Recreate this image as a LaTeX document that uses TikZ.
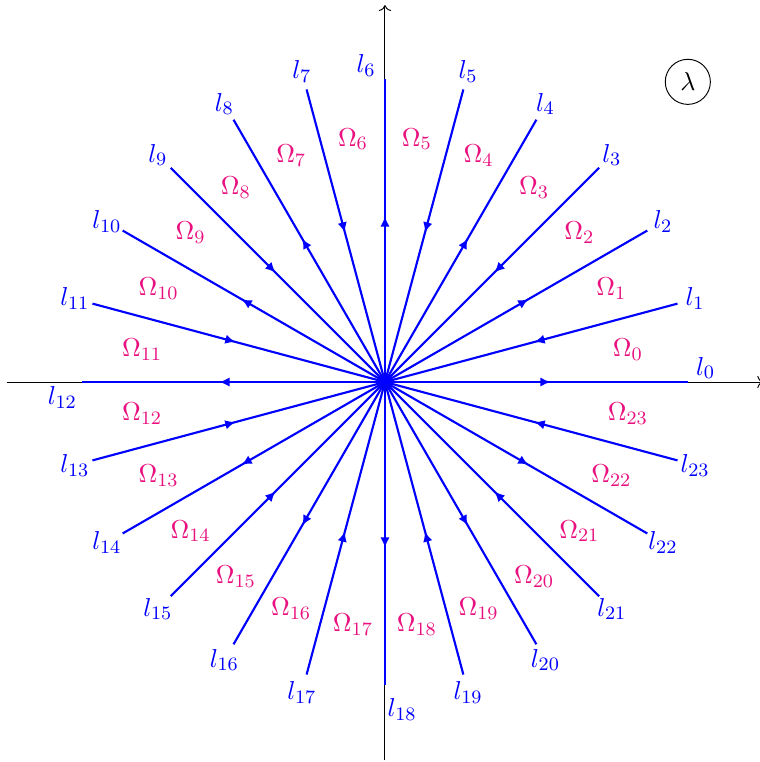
\documentclass[tikz,border=0pt]{standalone}
\usetikzlibrary{arrows.meta,decorations.markings}
\definecolor{omg}{RGB}{232,17,127}
\begin{document}
\begin{tikzpicture}[
  every node/.style={font=\fontsize{10.95}{13}\selectfont},
  ray/.style={blue, line width=0.9pt},
  outarrow/.style={postaction={decorate,decoration={markings,mark=at position 2.46cm with {\arrow{Latex[length=4.3pt,width=4pt]}}}}},
  inarrow/.style={postaction={decorate,decoration={markings,mark=at position 2.30cm with {\arrowreversed{Latex[length=4.3pt,width=4pt]}}}}},
  lab/.style={blue, inner sep=0pt},
  omlab/.style={omg, inner sep=0pt},
  axis/.style={black, thin, ->}]
\useasboundingbox (-5.72,-5.646) rectangle (5.57,5.676);
\coordinate (O) at (0,0);
\coordinate (xs) at (-5.62,0); \coordinate (xe) at (5.62,0);
\coordinate (ys) at (0,-5.62); \coordinate (ye) at (0,5.60);
\draw[axis] (xs) -- (xe);
\draw[axis] (ys) -- (ye);
\foreach \k in {0,...,23} {
  \coordinate (e\k) at (15*\k:4.5);
  \pgfmathtruncatemacro{\myparity}{mod(\k,2)}
  \ifnum\myparity=0
    \draw[ray,outarrow] (O) -- (e\k);
  \else
    \draw[ray,inarrow] (O) -- (e\k);
  \fi
  \node[omlab] (om\k) at (15*\k+7.5:3.64) {$\Omega_{\k}$};
}
\foreach \k/\a/\r in {0/2.5/4.77, 1/15/4.77, 2/30/4.77, 3/45/4.77, 4/60/4.77, 5/75/4.77,
  6/93.4/4.71, 7/105/4.77, 8/120/4.77, 9/135/4.77, 10/150/4.77, 11/165/4.77,
  12/182.8/4.8, 13/195/4.77, 14/210/4.77, 15/225/4.77, 16/240/4.77, 17/255/4.77,
  18/273/4.87, 19/285/4.77, 20/300/4.77, 21/315/4.77, 22/330/4.77, 23/345/4.77} {
  \node[lab] (l\k) at (\a:\r) {$l_{\k}$};
}
\node[draw, circle, minimum size=0.67cm, inner sep=0pt] (lam) at (4.5,4.46) {$\lambda$};
\end{tikzpicture}
\end{document}
